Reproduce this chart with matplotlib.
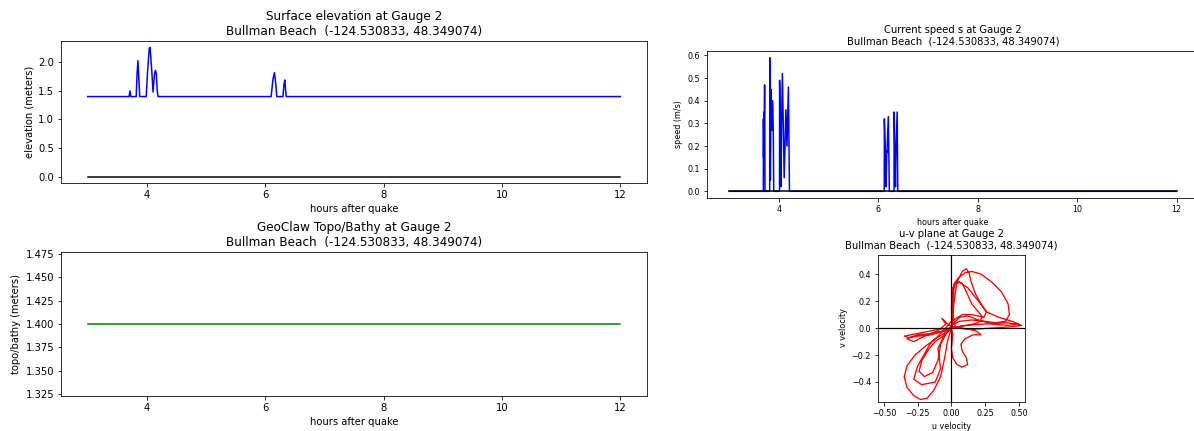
import numpy as np
import matplotlib
matplotlib.use("Agg")
import matplotlib.pyplot as plt

# gauge 2 values
place = "Bullman Beach  (-124.530833, 48.349074)"
t_span = [3.0, 12.0]
zero_line = [0.0, 0.0]
topo_level = [1.4, 1.4]

# surface elevation (meters)
t_eta = [3.0, 3.70, 3.715, 3.73, 3.82, 3.835, 3.85, 3.865, 3.88, 3.99, 4.01, 4.04,
         4.055, 4.08, 4.105, 4.13, 4.145, 4.16, 4.175, 4.19, 6.10, 6.13, 6.155,
         6.18, 6.195, 6.30, 6.315, 6.33, 6.345, 6.355, 12.0]
eta = [1.4, 1.4, 1.5, 1.4, 1.4, 1.8, 2.03, 1.7, 1.4, 1.4, 1.8, 2.24,
       2.26, 1.9, 1.48, 1.8, 1.86, 1.8, 1.5, 1.4, 1.4, 1.7, 1.82,
       1.6, 1.4, 1.4, 1.6, 1.69, 1.5, 1.4, 1.4]

# current speed (m/s)
t_spd = [3.0, 3.684, 3.686, 3.690, 3.697, 3.700, 3.710, 3.718,
         3.812, 3.814, 3.826, 3.840, 3.858, 3.868, 3.876, 3.884, 3.894,
         4.010, 4.012, 4.040, 4.050, 4.068, 4.104, 4.139, 4.160, 4.189, 4.210,
         6.118, 6.120, 6.140, 6.154, 6.168, 6.172, 6.200, 6.220,
         6.315, 6.317, 6.344, 6.350, 6.378, 6.390, 12.0]
spd = [0.0, 0.0, 0.32, 0.15, 0.35, 0.20, 0.47, 0.0,
       0.0, 0.59, 0.05, 0.45, 0.27, 0.40, 0.36, 0.27, 0.0,
       0.0, 0.49, 0.02, 0.27, 0.52, 0.06, 0.36, 0.20, 0.46, 0.0,
       0.0, 0.32, 0.18, 0.02, 0.18, 0.17, 0.33, 0.0,
       0.0, 0.35, 0.02, 0.14, 0.35, 0.0, 0.0]

# u-v trajectory
u_vel = [0.0, -0.05, -0.15, -0.25, -0.32, -0.35, -0.30, -0.20, -0.10, 0.0,
         0.01, 0.01, 0.02, 0.05, 0.10, 0.15, 0.22, 0.30, 0.37, 0.42, 0.43, 0.40, 0.33, 0.25, 0.15, 0.06, 0.0,
         -0.04, -0.12, -0.20, -0.27, -0.33, -0.35, -0.33, -0.28, -0.23, -0.18, -0.13, -0.08, -0.05, -0.03, 0.0,
         0.10, 0.25, 0.40, 0.48, 0.52, 0.45, 0.30, 0.15, 0.03,
         0.0, 0.01, 0.04, 0.08, 0.11, 0.15, 0.20, 0.23, 0.20, 0.12, 0.05, 0.0,
         0.02, 0.04, 0.08, 0.11, 0.13, 0.15, 0.18, 0.22, 0.26, 0.35, 0.45, 0.50, 0.42, 0.30, 0.20, 0.12, 0.06, 0.02,
         -0.05, -0.12, -0.17, -0.22, -0.24, -0.20, -0.14, -0.10, -0.08, -0.04, 0.0,
         0.01, 0.0, 0.01, 0.04, 0.08, 0.12, 0.11, 0.08, 0.07, 0.10, 0.16, 0.22, 0.18, 0.08, 0.0,
         -0.04, -0.07, -0.04, -0.10, -0.20, -0.28, -0.33, -0.25, -0.15, -0.05, 0.0,
         0.02, 0.06, 0.12, 0.20, 0.26, 0.24, 0.15, 0.08, 0.0,
         -0.06, -0.16, -0.25, -0.28, -0.22, -0.12, -0.08, -0.10, -0.05, 0.0]
v_vel = [0.0, -0.02, -0.05, -0.06, -0.07, -0.06, -0.05, -0.03, -0.01, 0.0,
         0.10, 0.25, 0.33, 0.37, 0.41, 0.42, 0.40, 0.34, 0.27, 0.18, 0.10, 0.05, 0.04, 0.05, 0.06, 0.05, 0.02,
         -0.03, -0.08, -0.14, -0.20, -0.28, -0.36, -0.44, -0.50, -0.53, -0.52, -0.46, -0.36, -0.22, -0.10, 0.0,
         0.02, 0.03, 0.04, 0.03, 0.02, 0.01, 0.0, -0.01, 0.0,
         0.15, 0.30, 0.35, 0.33, 0.27, 0.18, 0.12, 0.08, 0.04, 0.02, 0.01, 0.0,
         0.20, 0.34, 0.42, 0.44, 0.41, 0.33, 0.25, 0.18, 0.12, 0.08, 0.05, 0.03, 0.02, 0.03, 0.06, 0.09, 0.08, 0.04,
         -0.05, -0.10, -0.16, -0.24, -0.32, -0.36, -0.33, -0.24, -0.12, -0.04, 0.0,
         -0.05, -0.15, -0.22, -0.27, -0.29, -0.27, -0.22, -0.17, -0.12, -0.08, -0.05, -0.05, -0.02, 0.0, 0.01,
         0.04, 0.07, 0.03, -0.02, -0.06, -0.10, -0.08, -0.05, -0.04, -0.02, 0.0,
         0.32, 0.34, 0.30, 0.20, 0.12, 0.08, 0.10, 0.10, 0.05,
         -0.02, -0.12, -0.28, -0.38, -0.42, -0.40, -0.30, -0.15, -0.05, 0.0]

fig = plt.figure(figsize=(1194 / 72, 431 / 72), dpi=72)

# surface elevation
ax1 = fig.add_axes([0.0511, 0.5754, 0.4908, 0.3295])
ax1.plot(t_eta, eta, 'b', lw=1.5)
ax1.plot(t_span, zero_line, 'k', lw=1.5)
ax1.set_title("Surface elevation at Gauge 2\n" + place, fontsize=12)
ax1.set_xlabel("hours after quake", fontsize=10)
ax1.set_ylabel("elevation (meters)", fontsize=10)
ax1.tick_params(labelsize=10)

# current speed (right edge runs off the figure in the original)
ax2 = fig.add_axes([0.5921, 0.5406, 0.412, 0.3411])
ax2.plot(t_spd, spd, 'b', lw=1.5)
ax2.plot(t_span, zero_line, 'k', lw=1.5)
ax2.spines['right'].set_visible(False)
ax2.set_title("Current speed s at Gauge 2\n" + place, fontsize=10)
ax2.set_xlabel("hours after quake", fontsize=8)
ax2.set_ylabel("speed (m/s)", fontsize=8)
ax2.tick_params(labelsize=8)

# topo/bathy
ax3 = fig.add_axes([0.0511, 0.0812, 0.4908, 0.3341])
ax3.plot(t_span, topo_level, 'g', lw=1.5)
ax3.set_title("GeoClaw Topo/Bathy at Gauge 2\n" + place, fontsize=12)
ax3.set_xlabel("hours after quake", fontsize=10)
ax3.set_ylabel("topo/bathy (meters)", fontsize=10)
ax3.tick_params(labelsize=10)

# u-v plane
ax4 = fig.add_axes([0.7353, 0.0660, 0.1231, 0.3457])
ax4.plot(u_vel, v_vel, 'r', lw=1.3)
ax4.axhline(0, color='k', lw=1.2)
ax4.axvline(0, color='k', lw=1.2)
ax4.set_xlim(-0.545, 0.545)
ax4.set_ylim(-0.545, 0.545)
ax4.set_aspect('equal')
ax4.set_xticks([-0.5, -0.25, 0.0, 0.25, 0.5])
ax4.set_title("u-v plane at Gauge 2\n" + place, fontsize=10)
ax4.set_xlabel("u velocity", fontsize=8)
ax4.set_ylabel("v velocity", fontsize=8)
ax4.tick_params(labelsize=8)

fig.savefig("out.png", dpi=72)
